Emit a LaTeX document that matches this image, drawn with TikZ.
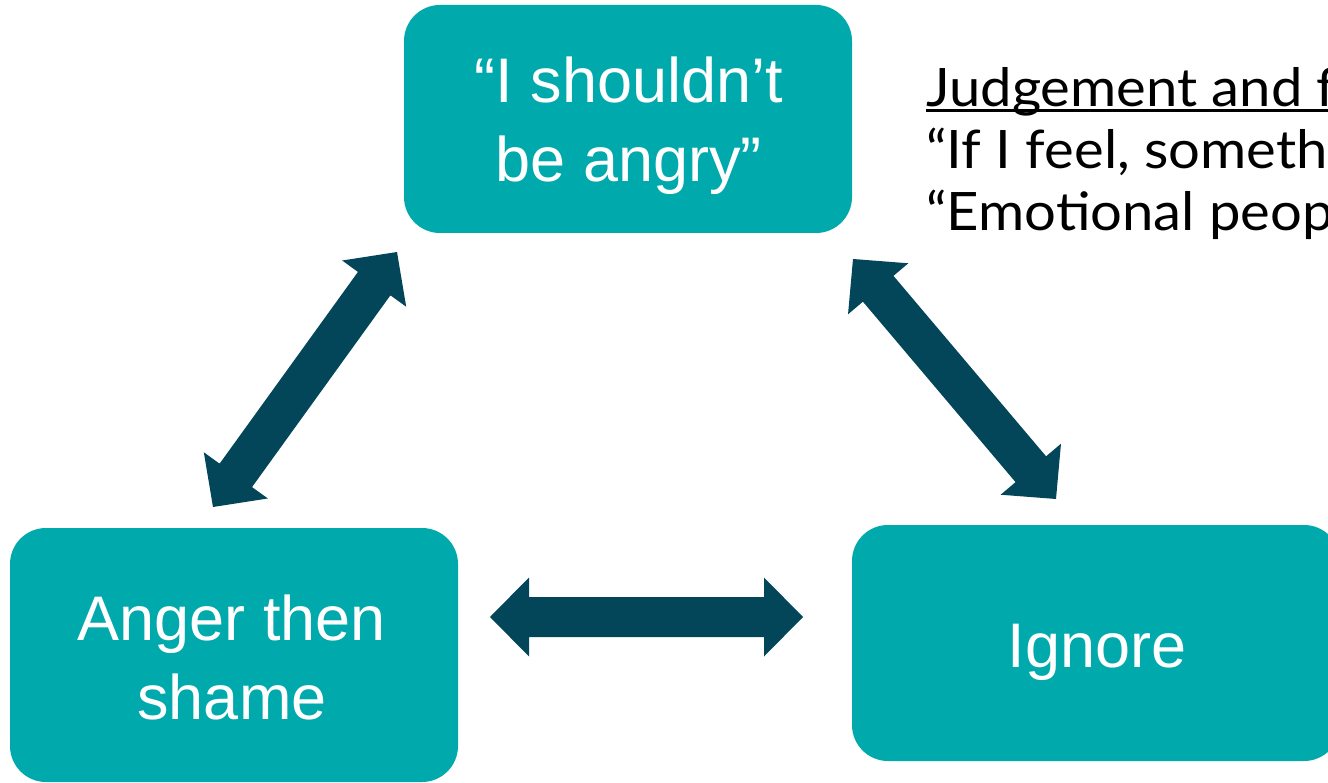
\documentclass[tikz,border=0pt]{standalone}
\usepackage{fontspec}
\setmainfont{Liberation Sans}
\newfontfamily\notefont[FakeStretch=1.06]{Lato}
\usetikzlibrary{calc}
\definecolor{boxteal}{RGB}{0,169,172}
\definecolor{arrowcol}{RGB}{3,70,89}
\newcommand{\dblarrow}[2]{%
  \path ($(#1)!39pt!(#2)$) coordinate (ha) ($(#2)!39pt!(#1)$) coordinate (hb);
  \fill[arrowcol] (#1) -- ($(ha)!39.5pt!90:(#2)$) -- ($(ha)!20pt!90:(#2)$)
    -- ($(hb)!20pt!-90:(#1)$) -- ($(hb)!39.5pt!-90:(#1)$) -- (#2)
    -- ($(hb)!39.5pt!90:(#1)$) -- ($(hb)!20pt!90:(#1)$)
    -- ($(ha)!20pt!-90:(#2)$) -- ($(ha)!39.5pt!-90:(#2)$) -- cycle;}
\tikzset{
  box/.style={rectangle, rounded corners=36pt, fill=boxteal, draw=none, inner sep=0pt},
  boxtext/.style={text=white, align=center, inner sep=0pt, font=\fontsize{63}{79}\selectfont},
  notetext/.style={text=black, inner sep=0pt, anchor=base west, font=\notefont\fontsize{53}{62}\selectfont}
}
\begin{document}
\begin{tikzpicture}[x=1pt,y=-1pt]
\useasboundingbox (0,0) rectangle (1328,783);
\clip (0,0) rectangle (1328,783);
% boxes
\node[box, minimum width=448pt, minimum height=228pt] (top) at (628,119) {};
\node[box, minimum width=448pt, minimum height=254pt] (left) at (234,655) {};
\node[box, minimum width=488pt, minimum height=236pt] (right) at (1096,643) {};
\node[boxtext, anchor=base] (toptext) at (629,182) {“I shouldn’t\\be angry”};
\node[boxtext, anchor=base] (lefttext) at (232,719) {Anger then\\shame};
\node[boxtext, anchor=base] (righttext) at (1097,667) {Ignore};
% note text
\node[notetext] (n1) at (926,107) {Judgement and f};
\draw[line width=3pt] ($(n1.base west)+(0,4)$) -- ($(n1.base east)+(0,4)$);
\node[notetext] (n2) at (926,169) {“If I feel, someth};
\node[notetext] (n3) at (926,231) {“Emotional peop};
% arrow end points
\coordinate (h1) at (490,617);
\coordinate (h2) at (803,617);
\coordinate (l1) at (213,507);
\coordinate (l2) at (397,252);
\coordinate (r1) at (853,259);
\coordinate (r2) at (1056,499);
\dblarrow{h1}{h2}
\dblarrow{l1}{l2}
\dblarrow{r1}{r2}
\end{tikzpicture}
\end{document}
